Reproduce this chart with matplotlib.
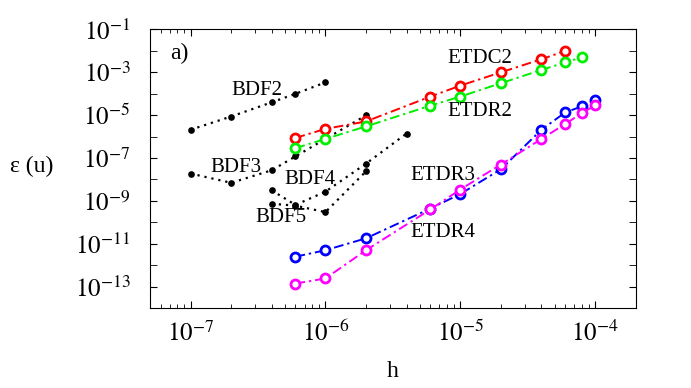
import numpy as np
import matplotlib
matplotlib.use('Agg')
import matplotlib.pyplot as plt
from matplotlib.ticker import LogLocator, FixedLocator, NullFormatter

plt.rcParams['font.family'] = ['Liberation Serif', 'DejaVu Serif']
plt.rcParams['mathtext.fontset'] = 'stix'

# data
bdf2_h = [1e-7, 2e-7, 4e-7, 6e-7, 1e-6]
bdf2_e = [2.1e-6, 8.7e-6, 4e-5, 1e-4, 3.4e-4]
bdf3_h = [1e-7, 2e-7, 4e-7, 6e-7, 1e-6, 2e-6]
bdf3_e = [1.9e-8, 7e-9, 2.7e-8, 1.2e-7, 7.8e-7, 9.8e-6]
bdf4_h = [4e-7, 6e-7, 1e-6, 2e-6, 4e-6]
bdf4_e = [3.1e-9, 6.5e-10, 2.7e-9, 5.5e-8, 1.4e-6]
bdf5_h = [4e-7, 6e-7, 1e-6, 2e-6]
bdf5_e = [7.4e-10, 6e-10, 3e-10, 2.4e-8]

etdc2_h = [6e-7, 1e-6, 2e-6, 6e-6, 1e-5, 2e-5, 4e-5, 6e-5]
etdc2_e = [8.7e-7, 2.3e-6, 5.1e-6, 7.4e-5, 2.4e-4, 1.0e-3, 4.1e-3, 1.0e-2]
etdr2_h = [6e-7, 1e-6, 2e-6, 6e-6, 1e-5, 2e-5, 4e-5, 6e-5, 8e-5]
etdr2_e = [2.9e-7, 7.8e-7, 3.0e-6, 2.8e-5, 7.4e-5, 3.1e-4, 1.3e-3, 2.9e-3, 5.1e-3]
etdr3_h = [6e-7, 1e-6, 2e-6, 6e-6, 1e-5, 2e-5, 4e-5, 6e-5, 8e-5, 1e-4]
etdr3_e = [2.5e-12, 5e-12, 1.8e-11, 4.4e-10, 2.1e-9, 3e-8, 2.1e-6, 1.35e-5, 2.6e-5, 4.9e-5]
etdr4_h = [6e-7, 1e-6, 2e-6, 6e-6, 1e-5, 2e-5, 4e-5, 6e-5, 8e-5, 1e-4]
etdr4_e = [1.4e-13, 2.4e-13, 5e-12, 4e-10, 3.4e-9, 5e-8, 7.8e-7, 3.9e-6, 1.26e-5, 2.9e-5]

fig = plt.figure(figsize=(6.91, 3.88), dpi=100)
ax = fig.add_axes([0.217, 0.206, 0.703, 0.718])

# BDF curves: black dotted with small dots
for h, e in [(bdf2_h, bdf2_e), (bdf3_h, bdf3_e), (bdf4_h, bdf4_e), (bdf5_h, bdf5_e)]:
    ax.plot(h, e, color='black', linestyle=(0, (1, 2.2)), linewidth=1.6,
            marker='o', markersize=3.8)

# ETD curves: dash-dot with open circles
dd = (0, (5, 2, 1.2, 2))
for h, e, c in [(etdc2_h, etdc2_e, '#ff0000'), (etdr2_h, etdr2_e, '#00ee00'),
                (etdr3_h, etdr3_e, '#0000ff'), (etdr4_h, etdr4_e, '#ff00ff')]:
    ax.plot(h, e, color=c, linestyle=dd, linewidth=1.4, marker='o', markersize=6.5,
            markerfacecolor='white', markeredgewidth=2.0)

ax.set_xscale('log')
ax.set_yscale('log')
ax.set_xlim(5e-8, 2e-4)
ax.set_ylim(1e-14, 1e-1)

ax.xaxis.set_major_locator(FixedLocator([1e-7, 1e-6, 1e-5, 1e-4]))
ax.xaxis.set_minor_locator(LogLocator(base=10, subs=np.arange(2, 10), numticks=20))
ax.xaxis.set_minor_formatter(NullFormatter())
ax.set_xticklabels([r'$10^{-7}$', r'$10^{-6}$', r'$10^{-5}$', r'$10^{-4}$'])

ymaj = [10.0 ** k for k in range(-13, 0, 2)]
ymin = [10.0 ** k for k in range(-14, 0, 2)]
ax.yaxis.set_major_locator(FixedLocator(ymaj))
ax.yaxis.set_minor_locator(FixedLocator(ymin))
ax.yaxis.set_minor_formatter(NullFormatter())
ax.set_yticklabels([r'$10^{%d}$' % k for k in range(-13, 0, 2)])

ax.tick_params(which='both', direction='in', top=True, right=True)
ax.tick_params(axis='x', which='major', length=5, labelsize=18, pad=9)
ax.tick_params(axis='x', which='minor', length=3)
ax.tick_params(axis='y', which='both', length=5, labelsize=18, pad=14)

ax.set_xlabel('h', fontsize=17, labelpad=11)
fig.text(53 / 691, 1 - 166 / 388, 'ε (u)', ha='right', va='center', fontsize=17)

ax.text(7.0e-8, 10 ** -2.12, 'a)', fontsize=17, va='center', ha='left')
ax.text(10 ** -6.51, 10 ** -3.86, 'BDF2', fontsize=15, ha='center', va='center')
ax.text(10 ** -6.66, 10 ** -7.43, 'BDF3', fontsize=15, ha='center', va='center')
ax.text(10 ** -6.114, 10 ** -8.01, 'BDF4', fontsize=15, ha='center', va='center')
ax.text(10 ** -6.332, 10 ** -9.78, 'BDF5', fontsize=15, ha='center', va='center')
ax.text(10 ** -4.855, 10 ** -2.34, 'ETDC2', fontsize=15, ha='center', va='center')
ax.text(10 ** -4.855, 10 ** -4.85, 'ETDR2', fontsize=15, ha='center', va='center')
ax.text(10 ** -5.127, 10 ** -7.81, 'ETDR3', fontsize=15, ha='center', va='center')
ax.text(10 ** -5.127, 10 ** -10.47, 'ETDR4', fontsize=15, ha='center', va='center')

fig.savefig('out.png', dpi=100)
